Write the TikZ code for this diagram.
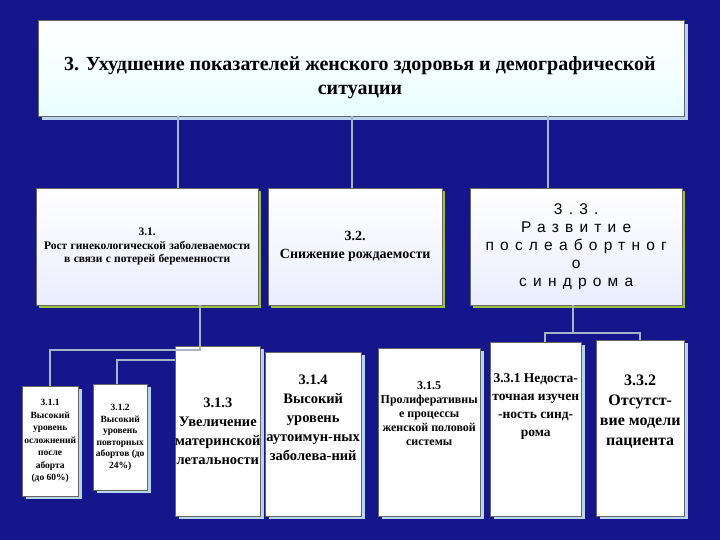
\documentclass[tikz,border=0pt]{standalone}
\usepackage{fontspec}
\setmainfont{Liberation Serif}
\newfontfamily\sansf[LetterSpace=40]{Liberation Sans}
\usetikzlibrary{shadows}
\definecolor{bg}{HTML}{16168C}
\definecolor{ln}{HTML}{A8B4C8}
\definecolor{sh}{HTML}{B8D4EE}
\definecolor{ygr}{HTML}{9CC23C}
\tikzset{
 upbox/.style={draw=black!60,left color=white,right color=cyan!12!blue!8,shading angle=0,
   inner sep=2pt,align=center,text width=#1,minimum height=117pt,
   drop shadow={shadow xshift=3pt,shadow yshift=-3pt,fill=ygr,opacity=1}},
 lowbox/.style={draw=black!60,fill=white,align=center,inner sep=0pt,
   drop shadow={shadow xshift=4pt,shadow yshift=-3pt,fill=sh,opacity=1}},
 conn/.style={draw=ln,line width=1.6pt}
}
\begin{document}
\begin{tikzpicture}[x=1pt,y=-1pt]
\fill[bg] (0,0) rectangle (720,540);
\useasboundingbox (0,0) rectangle (720,540);
% top
\node[draw=black!60,left color=white,right color=cyan!8,shading angle=0,
  minimum width=646pt,minimum height=96pt,anchor=north west,inner sep=0pt,
  drop shadow={shadow xshift=4pt,shadow yshift=-4pt,fill=sh,opacity=1}] (top) at (38,20) {};
\node[align=center,font=\bfseries\fontsize{20}{24}\selectfont] (tt) at (360,78)
 {3. Ухудшение показателей женского здоровья и демографической\\ситуации};
% row 2
\node[upbox=218pt,anchor=north west] (b1) at (36,188)
 {\fontsize{11.5}{13.5}\selectfont\bfseries 3.1.\\Рост гинекологической заболеваемости\\в связи с потерей беременности\\[4pt]};
\node[upbox=170pt,anchor=north west] (b2) at (268,188)
 {\fontsize{14}{18}\selectfont\bfseries 3.2.\\Снижение рождаемости\\[18pt]};
\node[upbox=208pt,anchor=north west] (b3) at (470,188)
 {\sansf\fontsize{15.5}{18}\selectfont 3.3.\\Развитие\\послеабортног\\о\\синдрома\\[2pt]};
\draw[conn] (top.south -| 178,0) -- (b1.north -| 178,0);
\draw[conn] (top.south -| 352,0) -- (b2.north -| 352,0);
\draw[conn] (top.south -| 548,0) -- (b3.north -| 548,0);
% row 3
\node[lowbox,anchor=north west,minimum width=56pt,minimum height=110pt,
  font=\bfseries\fontsize{9.5}{12.5}\selectfont] (c1) at (22,386)
 {3.1.1\\Высокий\\уровень\\осложнений\\после\\аборта\\(до 60\%)};
\node[lowbox,anchor=north west,minimum width=54pt,minimum height=106pt,
  font=\bfseries\fontsize{9.5}{11.5}\selectfont] (c2) at (93,384)
 {3.1.2\\Высокий\\уровень\\повторных\\абортов (до\\24\%)};
\node[lowbox,anchor=north west,minimum width=84pt,minimum height=170pt,
  font=\bfseries\fontsize{14.5}{19}\selectfont] (c3) at (175,346)
 {3.1.3\\Увеличение\\материнской\\летальности};
\node[lowbox,anchor=north west,minimum width=96pt,minimum height=164pt,
  font=\bfseries\fontsize{14.5}{19}\selectfont] (c4) at (265,352)
 {3.1.4\\Высокий\\уровень\\аутоимун-ных\\заболева-ний\\[14pt]};
\node[lowbox,anchor=north west,minimum width=102pt,minimum height=168pt,
  font=\bfseries\fontsize{12}{14}\selectfont] (c5) at (378,348)
 {3.1.5\\Пролиферативны\\е процессы\\женской половой\\системы\\[24pt]};
\node[lowbox,anchor=north west,minimum width=91pt,minimum height=174pt,
  font=\bfseries\fontsize{13.5}{18}\selectfont] (c6) at (490,342)
 {3.3.1 Недоста-\\точная изучен\\-ность синд-\\рома\\[30pt]};
\node[lowbox,anchor=north west,minimum width=88pt,minimum height=176pt,
  font=\bfseries\fontsize{16}{20}\selectfont] (c7) at (596,340)
 {3.3.2\\Отсутст-\\вие модели\\пациента\\[16pt]};
% connectors
\coordinate (j1) at (200,350);
\draw[conn] (b1.south -| j1) -- (j1) -- (50,350) -- (c1.north -| 50,0);
\draw[conn] (175,360) -- (117,360) -- (c2.north -| 117,0);
\coordinate (j3) at (573,333);
\draw[conn] (b3.south -| j3) -- (j3);
\draw[conn] (c6.north -| 545,0) -- (545,333) -- (640,333) -- (c7.north -| 640,0);
\end{tikzpicture}
\end{document}
